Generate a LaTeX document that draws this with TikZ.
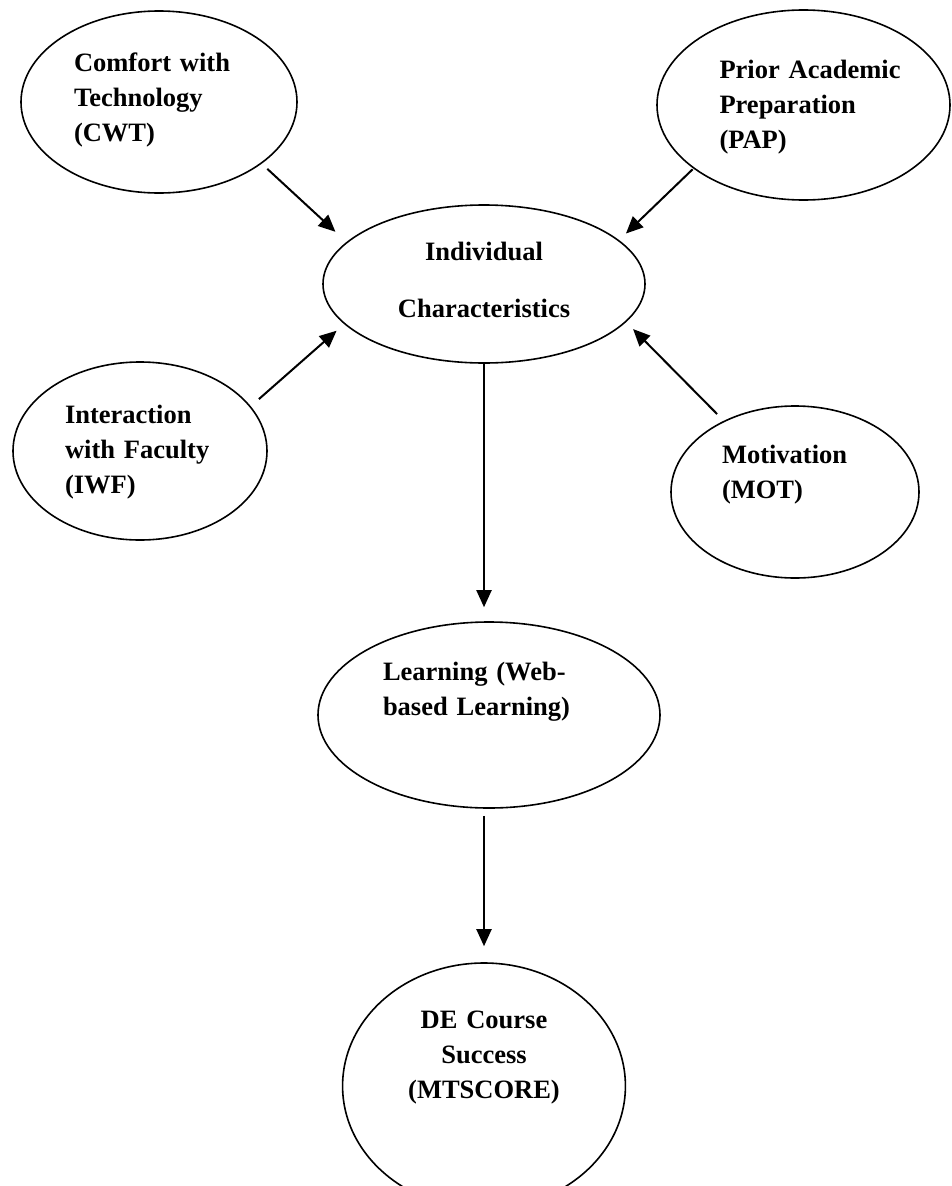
\documentclass[tikz,border=0pt]{standalone}
\usepackage{fontspec}
\setmainfont{Liberation Serif}
\usetikzlibrary{arrows.meta,shapes.geometric}

\tikzset{
  factor/.style={draw, ellipse, line width=1.6pt, inner sep=0pt,
    font=\fontsize{26.5pt}{35pt}\selectfont\bfseries},
  link/.style={-{Triangle[length=17pt,width=15pt]}, line width=2pt},
}

\begin{document}
\begin{tikzpicture}[x=1pt, y=-1pt]
    \useasboundingbox (0,0) rectangle (951,1186);

    % 外围因素
    \node[factor, minimum width=276pt, minimum height=182pt, text width=170pt, align=left, text depth=79pt]
        (cwt) at (159,102) {Comfort with\\Technology\\(CWT)};
    \node[factor, minimum width=293pt, minimum height=190pt, text width=168pt, align=left, text depth=71pt]
        (pap) at (803.5,105) {\mbox{Prior Academic}\\Preparation\\(PAP)};
    \node[factor, minimum width=254pt, minimum height=178pt, text width=150pt, align=left, text depth=73pt]
        (iwf) at (140,451) {Interaction\\with Faculty\\(IWF)};
    \node[factor, minimum width=248pt, minimum height=172pt, text width=146pt, align=left, text depth=76pt]
        (mot) at (795,492) {Motivation\\(MOT)};

    % 中间节点
    \node[factor, minimum width=322pt, minimum height=158pt, text width=200pt, align=center, text depth=65pt]
        (ind) at (484,284) {Individual\\[22pt]Characteristics};
    \node[factor, minimum width=342pt, minimum height=186pt, text width=212pt, align=left, text depth=88pt]
        (learn) at (489,715) {Learning (Web-\\based Learning)};
    \node[factor, minimum width=260pt, minimum height=246pt, text width=200pt, align=center, text depth=132pt]
        (de) at (484,1086) {DE Course\\Success\\(MTSCORE)};

    % 箭头
    \draw[link, shorten <=7.5pt, shorten >=15pt] (cwt.-31) -- (ind.163.5);
    \draw[link, shorten <=1pt, shorten >=9.5pt] (pap.-150.6) -- (ind.18.5);
    \draw[link, shorten <=10.8pt, shorten >=10pt] (iwf.22.9) -- (ind.-164.7);
    \draw[link, shorten <=9.4pt, shorten >=9.8pt] (mot.135.4) -- (ind.-15.1);
    \draw[link, shorten >=14pt] (ind.south) -- (ind.south |- learn.north);
    \draw[link, shorten <=7pt, shorten >=16pt] (learn.south -| de.north) -- (de.north);
\end{tikzpicture}
\end{document}
